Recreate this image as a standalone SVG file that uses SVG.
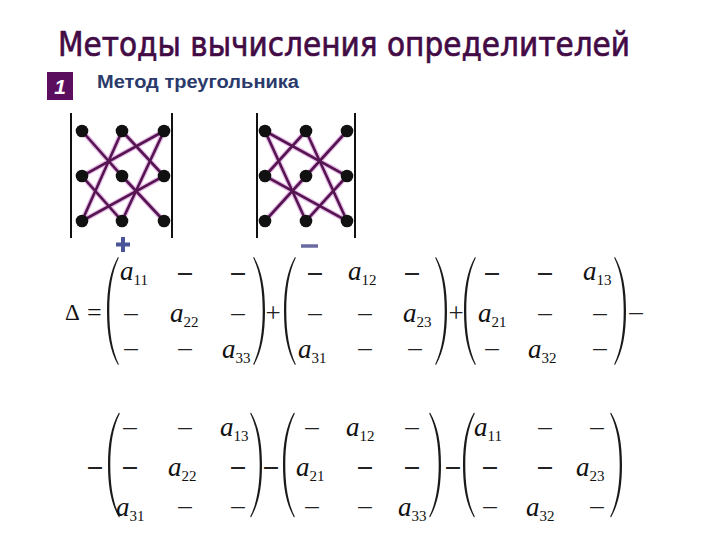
<svg xmlns="http://www.w3.org/2000/svg" width="720" height="540" viewBox="0 0 720 540">
<style>
.title{font-family:"DejaVu Sans",sans-serif;font-size:34px;fill:#430b45;stroke:#430b45;stroke-width:0.7}
.sub{font-family:"Liberation Sans",Arial,sans-serif;font-weight:bold;font-size:18px;fill:#2b3a6b}
.m{font-family:"Liberation Serif","Times New Roman",serif;fill:#111}
.a{font-family:"Liberation Serif","Times New Roman",serif;font-style:italic;font-size:27px;fill:#111}
.s{font-style:normal;font-size:15px}
.d{font-family:"Liberation Serif","Times New Roman",serif;font-size:27px;fill:#222;text-anchor:middle}
.b{font-weight:bold}
.par{fill:#1a1a1a}
.halo{stroke:#e6bde6;stroke-width:5;fill:none;stroke-linecap:round}
.ln{stroke:#561552;stroke-width:2.6;fill:none;stroke-linecap:round}
.bar{stroke:#111;stroke-width:2}
</style>
<defs>
<path id="lp" d="M11,-54 C3,-40 0,-22 0,0 C0,22 3,40 11,54 L11.8,53.2 C5,39 2.3,21 2.3,0 C2.3,-21 5,-39 11.8,-53.2 Z"/>
<path id="rp" d="M-11,-54 C-3,-40 0,-22 0,0 C0,22 -3,40 -11,54 L-11.8,53.2 C-5,39 -2.3,21 -2.3,0 C-2.3,-21 -5,-39 -11.8,-53.2 Z"/>
</defs>
<rect width="720" height="540" fill="#fff"/>
<g id="title"><text class="title" x="58" y="56" textLength="572" lengthAdjust="spacingAndGlyphs">Методы вычисления определителей</text></g>
<g id="num">
<rect x="47" y="72" width="26" height="28" fill="#5c0e5e"/>
<text x="60" y="94" font-family="Liberation Sans,Arial,sans-serif" font-size="21" font-weight="bold" font-style="italic" fill="#fff" text-anchor="middle">1</text>
</g>
<g id="subtitle"><text class="sub" x="97" y="88" textLength="202" lengthAdjust="spacingAndGlyphs">Метод треугольника</text></g>

<g id="scheme-plus">
<line class="bar" x1="71" y1="113" x2="71" y2="238"/>
<line class="bar" x1="172" y1="113" x2="172" y2="238"/>
<g class="halo">
<polyline points="82,131 122,176 164,221"/>
<polygon points="122,131 164,176 82,221"/>
<polygon points="164,131 82,176 122,221"/>
</g>
<g class="ln">
<polyline points="82,131 122,176 164,221"/>
<polygon points="122,131 164,176 82,221"/>
<polygon points="164,131 82,176 122,221"/>
</g>
<g fill="#111">
<circle cx="82" cy="131" r="6.3"/><circle cx="122" cy="131" r="6.3"/><circle cx="164" cy="131" r="6.3"/>
<circle cx="82" cy="176" r="6.3"/><circle cx="122" cy="176" r="6.3"/><circle cx="164" cy="176" r="6.3"/>
<circle cx="82" cy="221" r="6.3"/><circle cx="122" cy="221" r="6.3"/><circle cx="164" cy="221" r="6.3"/>
</g>
<path d="M123,237 V252 M116,244.5 H130" stroke="#4a5498" stroke-width="4"/>
</g>

<g id="scheme-minus">
<line class="bar" x1="257" y1="113" x2="257" y2="238"/>
<line class="bar" x1="355" y1="113" x2="355" y2="238"/>
<g class="halo">
<polyline points="347,131 306,176 265,221"/>
<polygon points="306,131 265,176 347,221"/>
<polygon points="265,131 347,176 306,221"/>
</g>
<g class="ln">
<polyline points="347,131 306,176 265,221"/>
<polygon points="306,131 265,176 347,221"/>
<polygon points="265,131 347,176 306,221"/>
</g>
<g fill="#111">
<circle cx="265" cy="131" r="6.3"/><circle cx="306" cy="131" r="6.3"/><circle cx="347" cy="131" r="6.3"/>
<circle cx="265" cy="176" r="6.3"/><circle cx="306" cy="176" r="6.3"/><circle cx="347" cy="176" r="6.3"/>
<circle cx="265" cy="221" r="6.3"/><circle cx="306" cy="221" r="6.3"/><circle cx="347" cy="221" r="6.3"/>
</g>
<path d="M301,246 H318" stroke="#6a6aa0" stroke-width="3.5"/>
</g>

<g id="row1">
<text class="m" x="65" y="320" font-size="23">Δ</text>
<text class="m" x="87" y="321" font-size="26">=</text>
<g class="par">
<use href="#lp" x="107" y="311"/>
<use href="#rp" x="265" y="311"/>
<use href="#lp" x="284" y="311"/>
<use href="#rp" x="447" y="311"/>
<use href="#lp" x="464" y="311"/>
<use href="#rp" x="626" y="311"/>
</g>
<text class="d" x="273" y="322">+</text>
<text class="d" x="456" y="322">+</text>
<text class="d" x="636" y="320">–</text>

<text class="a" x="120" y="280">a<tspan class="s" dy="5">11</tspan></text>
<text class="d b" x="185" y="280">–</text><text class="d b" x="238" y="280">–</text>
<text class="d" x="131" y="321">–</text>
<text class="a" x="170" y="322">a<tspan class="s" dy="5">22</tspan></text>
<text class="d" x="238" y="321">–</text>
<text class="d" x="131" y="356">–</text><text class="d" x="185" y="356">–</text>
<text class="a" x="222" y="358">a<tspan class="s" dy="5">33</tspan></text>

<text class="d b" x="315" y="280">–</text>
<text class="a" x="348" y="280">a<tspan class="s" dy="5">12</tspan></text>
<text class="d b" x="412" y="280">–</text>
<text class="d" x="315" y="321">–</text><text class="d" x="365" y="321">–</text>
<text class="a" x="403" y="322">a<tspan class="s" dy="5">23</tspan></text>
<text class="a" x="298" y="358">a<tspan class="s" dy="5">31</tspan></text>
<text class="d" x="365" y="356">–</text><text class="d" x="415" y="356">–</text>

<text class="d b" x="492" y="280">–</text><text class="d b" x="545" y="280">–</text>
<text class="a" x="583" y="280">a<tspan class="s" dy="5">13</tspan></text>
<text class="a" x="478" y="322">a<tspan class="s" dy="5">21</tspan></text>
<text class="d" x="545" y="321">–</text><text class="d" x="600" y="321">–</text>
<text class="d" x="492" y="356">–</text>
<text class="a" x="528" y="358">a<tspan class="s" dy="5">32</tspan></text>
<text class="d" x="600" y="356">–</text>
</g>

<g id="row2">
<text class="d b" x="95" y="474">–</text>
<g class="par">
<use href="#lp" transform="translate(108,465) scale(1,0.97)"/>
<use href="#rp" transform="translate(262,465) scale(1,0.97)"/>
<use href="#lp" transform="translate(283,465) scale(1,0.97)"/>
<use href="#rp" transform="translate(441,465) scale(1,0.97)"/>
<use href="#lp" transform="translate(463,465) scale(1,0.97)"/>
<use href="#rp" transform="translate(622,465) scale(1,0.97)"/>
</g>
<text class="d b" x="271" y="474">–</text>
<text class="d b" x="453" y="474">–</text>

<text class="d" x="130" y="435">–</text><text class="d" x="185" y="435">–</text>
<text class="a" x="220" y="436">a<tspan class="s" dy="5">13</tspan></text>
<text class="d b" x="130" y="474">–</text>
<text class="a" x="168" y="476">a<tspan class="s" dy="5">22</tspan></text>
<text class="d b" x="238" y="474">–</text>
<text class="a" x="116" y="516">a<tspan class="s" dy="5">31</tspan></text>
<text class="d" x="185" y="514">–</text><text class="d" x="238" y="514">–</text>

<text class="d" x="312" y="435">–</text>
<text class="a" x="346" y="436">a<tspan class="s" dy="5">12</tspan></text>
<text class="d" x="412" y="435">–</text>
<text class="a" x="296" y="476">a<tspan class="s" dy="5">21</tspan></text>
<text class="d b" x="365" y="474">–</text><text class="d b" x="412" y="474">–</text>
<text class="d" x="312" y="514">–</text><text class="d" x="365" y="514">–</text>
<text class="a" x="398" y="516">a<tspan class="s" dy="5">33</tspan></text>

<text class="a" x="474" y="436">a<tspan class="s" dy="5">11</tspan></text>
<text class="d" x="545" y="435">–</text><text class="d" x="597" y="435">–</text>
<text class="d b" x="490" y="474">–</text><text class="d b" x="545" y="474">–</text>
<text class="a" x="576" y="476">a<tspan class="s" dy="5">23</tspan></text>
<text class="d" x="490" y="514">–</text>
<text class="a" x="526" y="516">a<tspan class="s" dy="5">32</tspan></text>
<text class="d" x="597" y="514">–</text>
</g>
</svg>
